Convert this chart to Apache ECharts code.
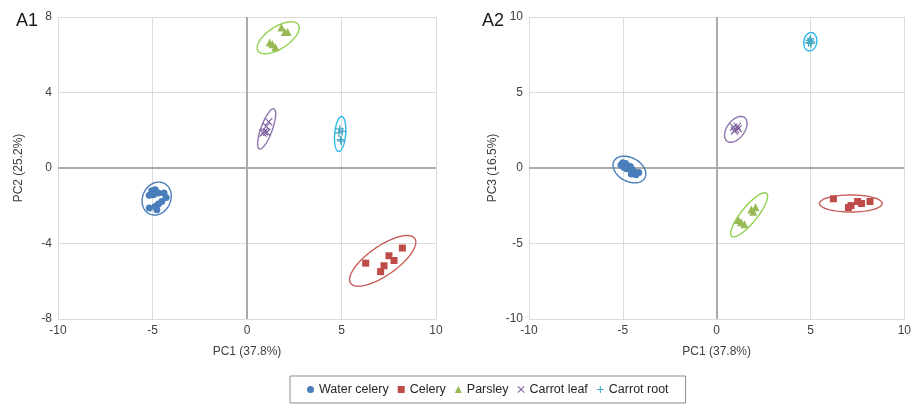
<!DOCTYPE html>
<html>
<head>
<meta charset="utf-8">
<script src="https://cdn.jsdelivr.net/npm/echarts@6/dist/echarts.min.js"></script>
<style>
html,body{margin:0;padding:0;background:#fff;}
#main{width:914px;height:405px;}
</style>
</head>
<body>
<div id="main"></div>
<script>
// ---------- data ----------
const categories = ['Water celery', 'Celery', 'Parsley', 'Carrot leaf', 'Carrot root'];
const panelLabels = ['A1', 'A2'];
const xAxisTitle = 'PC1 (37.8%)';
const yAxisTitles = ['PC2 (25.2%)', 'PC3 (16.5%)'];
const xTicks = [-10, -5, 0, 5, 10];
const yTicksA1 = [-8, -4, 0, 4, 8];
const yTicksA2 = [-10, -5, 0, 5, 10];

// Panel A1: PC1 vs PC2
const a1WaterCelery = [[-5.04,-1.20],[-4.86,-1.15],[-4.69,-1.33],[-5.17,-1.45],[-4.39,-1.33],[-4.28,-1.56],
  [-4.51,-1.77],[-4.69,-1.91],[-4.86,-2.04],[-4.77,-2.21],[-5.17,-2.12],[-4.95,-1.42]];
const a1Celery = [[6.28,-5.04],[7.07,-5.49],[7.25,-5.18],[7.51,-4.65],[7.78,-4.90],[8.22,-4.24]];
const a1Parsley = [[1.82,7.45],[2.00,7.20],[2.15,7.20],[1.20,6.65],[1.35,6.55],[1.50,6.40]];
const a1CarrotLeaf = [[1.15,2.45],[1.02,2.20],[0.92,1.92],[0.85,1.85],[1.05,1.90]];
const a1CarrotRoot = [[4.91,2.07],[5.04,1.94],[4.86,1.86],[4.95,1.50],[4.99,1.42]];
// ellipses: centre x, centre y, first semi-diameter (dx, dy), conjugate semi-diameter (dx, dy)
const a1Ellipses = [
  [-4.78,-1.62, 0.380,0.816, -0.671,0.313],
  [7.18,-4.92, 1.696,1.187, -0.440,0.630],
  [1.65,6.90, 1.065,0.692, -0.316,0.486],
  [1.04,2.07, 0.386,1.062, -0.282,0.103],
  [4.93,1.80, 0.081,0.926, -0.289,0.025]
];

// Panel A2: PC1 vs PC3
const a2WaterCelery = [[-5.10,0.20],[-5.00,0.35],[-4.85,0.30],[-4.95,0.05],[-4.75,0.15],[-4.60,0.10],
  [-4.80,-0.05],[-4.50,-0.10],[-4.40,-0.25],[-4.30,-0.45],[-4.55,-0.40],[-4.15,-0.30]];
const a2Celery = [[6.22,-2.04],[7.02,-2.62],[7.16,-2.49],[7.51,-2.22],[7.72,-2.35],[8.17,-2.22]];
const a2Parsley = [[2.07,-2.60],[1.85,-2.75],[1.95,-2.90],[1.15,-3.45],[1.30,-3.60],[1.48,-3.72]];
const a2CarrotLeaf = [[0.90,2.70],[1.00,2.55],[1.10,2.75],[0.95,2.45],[1.15,2.60]];
const a2CarrotRoot = [[4.95,8.45],[5.05,8.35],[4.90,8.30],[5.00,8.55],[5.02,8.25]];
const a2Ellipses = [
  [-4.65,-0.10, 0.824,-0.549, 0.294,0.692],
  [7.15,-2.35, 1.671,0.000, 0.000,0.565],
  [1.73,-3.10, 0.927,1.419, -0.328,0.337],
  [1.02,2.56, 0.469,0.780, -0.373,0.352],
  [4.99,8.36, 0.085,0.602, -0.340,0.075]
];

// ---------- styles ----------
const FONT = '"Liberation Sans", Arial, sans-serif';
const TXT = '#404040';
const pointColors = ['#4a7ebb', '#be4b48', '#98b954', '#7d60a0', '#46aac5'];
const ellipseColors = ['#4a7ebb', '#c9605d', '#92d050', '#8f77ad', '#2db8ec'];
const symbols = ['circle', 'rect', 'triangle',
  'path://M1,0 L5,4 L9,0 L10,1 L6,5 L10,9 L9,10 L5,6 L1,10 L0,9 L4,5 L0,1 Z',
  'path://M4.2,0 H5.8 V4.2 H10 V5.8 H5.8 V10 H4.2 V5.8 H0 V4.2 H4.2 Z'];
const symbolSizes = [7, 7, 8, 8, 8];

const panels = [
  {pts: [a1WaterCelery, a1Celery, a1Parsley, a1CarrotLeaf, a1CarrotRoot], ell: a1Ellipses, yTicks: yTicksA1},
  {pts: [a2WaterCelery, a2Celery, a2Parsley, a2CarrotLeaf, a2CarrotRoot], ell: a2Ellipses, yTicks: yTicksA2}
];

function ellipseSeries(rows, g) {
  return {
    type: 'custom', name: 'ellipse-' + g, xAxisIndex: g, yAxisIndex: g, silent: true, z: 2,
    data: rows.map((r, i) => r.concat([i])),
    encode: {x: 0, y: 1},
    renderItem: function (params, api) {
      const cx = api.value(0), cy = api.value(1), ux = api.value(2), uy = api.value(3),
            vx = api.value(4), vy = api.value(5), k = api.value(6);
      const pts = [];
      for (let i = 0; i < 90; i++) {
        const t = i / 90 * Math.PI * 2;
        pts.push(api.coord([cx + ux * Math.cos(t) + vx * Math.sin(t), cy + uy * Math.cos(t) + vy * Math.sin(t)]));
      }
      return {type: 'polygon', shape: {points: pts},
              style: {fill: 'transparent', stroke: ellipseColors[k], lineWidth: 1.4}};
    }
  };
}

const grids = [
  {left: 58, right: 478, top: 17, bottom: 86},
  {left: 529, right: 8, top: 17, bottom: 86}
];
const xAxes = [], yAxes = [], series = [];
panels.forEach((p, g) => {
  xAxes.push({
    type: 'value', gridIndex: g, min: xTicks[0], max: xTicks[xTicks.length - 1], interval: xTicks[1] - xTicks[0],
    name: xAxisTitle, nameLocation: 'middle', nameGap: 27,
    nameTextStyle: {color: TXT, fontSize: 12, fontFamily: FONT},
    axisLine: {show: false}, axisTick: {show: false},
    axisLabel: {color: TXT, fontSize: 12, fontFamily: FONT, margin: 6},
    splitLine: {show: true, lineStyle: {color: '#dcdcdc', width: 1}}
  });
  yAxes.push({
    type: 'value', gridIndex: g, min: p.yTicks[0], max: p.yTicks[p.yTicks.length - 1], interval: p.yTicks[1] - p.yTicks[0],
    name: yAxisTitles[g], nameLocation: 'middle', nameGap: g === 0 ? 33 : 30, nameRotate: 90,
    nameTextStyle: {color: TXT, fontSize: 12, fontFamily: FONT},
    axisLine: {show: false}, axisTick: {show: false},
    axisLabel: {color: TXT, fontSize: 12, fontFamily: FONT, margin: 6},
    splitLine: {show: true, lineStyle: {color: '#dcdcdc', width: 1}}
  });
  series.push(ellipseSeries(p.ell, g));
  categories.forEach((c, k) => {
    const s = {
      type: 'scatter', name: c, xAxisIndex: g, yAxisIndex: g, z: 3,
      data: p.pts[k], symbol: symbols[k], symbolSize: symbolSizes[k],
      itemStyle: {color: pointColors[k], opacity: 1}
    };
    if (k === 0) {
      s.markLine = {
        silent: true, symbol: 'none', label: {show: false}, z: 1,
        lineStyle: {color: '#ababab', width: 2, type: 'solid'},
        data: [{xAxis: 0}, {yAxis: 0}]
      };
    }
    series.push(s);
  });
});

const option = {
  animation: false,
  backgroundColor: '#ffffff',
  textStyle: {fontFamily: FONT},
  title: panelLabels.map((t, i) => ({
    text: t, left: i === 0 ? 11 : 477, top: 7,
    textStyle: {color: '#1a1a1a', fontSize: 18, fontWeight: 'normal', fontFamily: FONT}
  })),
  grid: grids,
  xAxis: xAxes,
  yAxis: yAxes,
  legend: {
    data: categories, left: 290, top: 376,
    padding: [7, 17], itemGap: 9, itemWidth: 7, itemHeight: 7,
    borderColor: '#8c8c8c', borderWidth: 1, backgroundColor: '#fff',
    textStyle: {color: '#262626', fontSize: 12.5, fontFamily: FONT}
  },
  series: series
};
const chart = echarts.init(document.getElementById('main'));
chart.setOption(option);
</script>
</body>
</html>
